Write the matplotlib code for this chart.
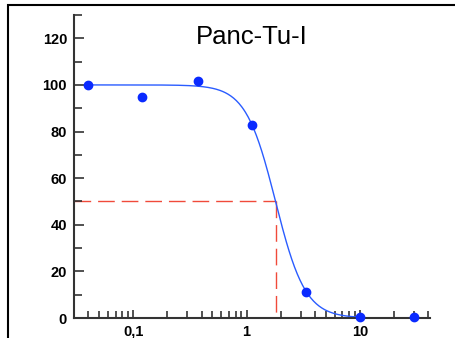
import numpy as np
import matplotlib
matplotlib.use("Agg")
import matplotlib.pyplot as plt
from matplotlib.ticker import FixedLocator, LogLocator, NullFormatter, MultipleLocator
from matplotlib.patches import Rectangle

# --- data ---
conc = [0.04, 0.12, 0.37, 1.11, 3.33, 10, 30]
viability = [100, 95, 101.7, 83, 11.2, 0.3, 0.3]

# fitted sigmoid parameters (top, bottom, IC50, Hill slope)
fit_top = 100.0
fit_bottom = 0.0
ic50 = 1.8
hill = 3.3
fit_range = [0.04, 10]

x_ticks = [0.1, 1, 10]
x_labels = ["0,1", "1", "10"]
y_ticks = [0, 20, 40, 60, 80, 100, 120]
title = "Panc-Tu-I"

fig = plt.figure(figsize=(4.55, 3.38), dpi=100)
ax = fig.add_axes([74 / 455, 1 - 318 / 338, 356 / 455, 303 / 338])

# outer frame (cropped at right/bottom in the reference)
fig.patches.append(Rectangle((8 / 455, -0.1), 1.2, 1 - 5 / 338 + 0.1,
                             transform=fig.transFigure, fill=False,
                             edgecolor="black", linewidth=1.5))

xs = np.logspace(np.log10(fit_range[0]), np.log10(fit_range[1]), 300)
ys = fit_bottom + (fit_top - fit_bottom) / (1 + (xs / ic50) ** hill)
ax.plot(xs, ys, color="#2a5cff", linewidth=1.0, zorder=2)
ax.plot(conc, viability, "o", color="#0a2aff", markersize=6, zorder=3, clip_on=False)

# IC50 guide lines
ax.plot([0.03, ic50], [50, 50], color="#f04a3a", linewidth=1.0,
        dashes=(12, 5), zorder=1)
ax.plot([ic50, ic50], [50, 0], color="#f04a3a", linewidth=1.0,
        dashes=(12, 5), zorder=1)

ax.set_xscale("log")
ax.set_xlim(0.030, 41.5)
ax.set_ylim(0, 130)

ax.xaxis.set_major_locator(FixedLocator(x_ticks))
ax.set_xticklabels(x_labels)
ax.xaxis.set_minor_locator(LogLocator(base=10, subs=np.arange(2, 10)))
ax.xaxis.set_minor_formatter(NullFormatter())
ax.set_yticks(y_ticks)
ax.yaxis.set_minor_locator(MultipleLocator(10))

for side in ["top", "right"]:
    ax.spines[side].set_visible(False)
for side in ["left", "bottom"]:
    ax.spines[side].set_linewidth(1.5)
    ax.spines[side].set_color("#333333")

ax.tick_params(which="both", direction="in", color="#333333", width=1.2)
ax.tick_params(axis="y", which="major", length=7, pad=5)
ax.tick_params(axis="y", which="minor", length=6)
ax.tick_params(axis="x", which="major", length=6, pad=5)
ax.tick_params(axis="x", which="minor", length=5)

for lbl in ax.get_xticklabels() + ax.get_yticklabels():
    lbl.set_family(["Liberation Sans", "DejaVu Sans"])
    lbl.set_fontweight("bold")
    lbl.set_fontsize(10.5)

ax.text(0.5, 0.905, title, transform=ax.transAxes, ha="center", va="baseline",
        fontsize=18.5, family=["Liberation Sans", "DejaVu Sans"])

fig.savefig("out.png", dpi=100)
